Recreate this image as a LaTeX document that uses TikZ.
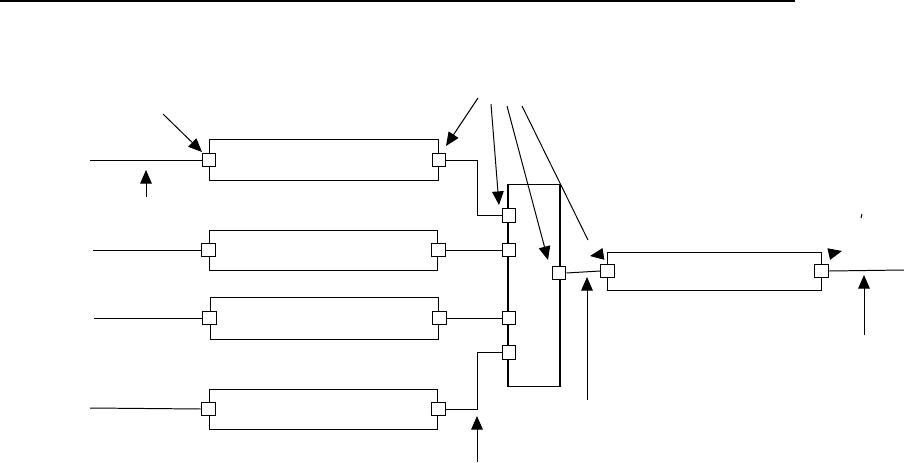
\documentclass[tikz,border=0pt]{standalone}
\usetikzlibrary{arrows.meta}
\begin{document}
\begin{tikzpicture}[x=0.025cm,y=-0.025cm]
		\tikzset{
			block/.style={draw, line width=0.7pt, inner sep=0pt, minimum width=5.72cm, minimum height=1.02cm},
			port/.style={draw, line width=0.7pt, fill=white, inner sep=0pt, minimum size=0.34cm},
			wire/.style={line width=0.7pt},
			pointer/.style={line width=0.7pt, -{Triangle[length=0.34cm, width=0.29cm]}}
		}
		\useasboundingbox (0,0) rectangle (904,462);
		
		\draw[line width=1.4pt] (0,1) -- (795,1);
		
		% units
		\node[block] (b1) at (324,160) {};
		\node[block, minimum height=1cm] (b2) at (323.5,250) {};
		\node[block, minimum height=1.05cm] (b3) at (324.5,318) {};
		\node[block, minimum height=1cm] (b4) at (323.5,409) {};
		\node[block, minimum width=5.33cm, minimum height=0.95cm] (main) at (714.5,271) {};
		\node[draw, line width=0.85pt, inner sep=0pt, minimum width=1.3cm, minimum height=5.03cm] (bus) at (534,285.5) {};
		
		% ports
		\node[port] (b1i) at (b1.west) {};
		\node[port] (b1o) at (b1.east) {};
		\node[port] (b2i) at (b2.west) {};
		\node[port] (b2o) at (b2.east) {};
		\node[port] (b3i) at (b3.west) {};
		\node[port] (b3o) at (b3.east) {};
		\node[port] (b4i) at (b4.west) {};
		\node[port] (b4o) at (b4.east) {};
		\node[port] (mi) at (main.west) {};
		\node[port] (mo) at (main.east) {};
		\node[port] (bus1) at (509,215.5) {};
		\node[port] (bus2) at (509,250) {};
		\node[port] (bus3) at (509,318) {};
		\node[port] (bus4) at (509,352.5) {};
		\node[port] (busr) at (559,273) {};
		
		% free ends
		\coordinate (in1) at (90,160);
		\coordinate (in2) at (93,250);
		\coordinate (in3) at (94,318);
		\coordinate (in4) at (90,408);
		\coordinate (out) at (904,270);
		
		\draw[wire] (in1) -- (b1i.west);
		\draw[wire] (in2) -- (b2i.west);
		\draw[wire] (in3) -- (b3i.west);
		\draw[wire] (in4) -- (b4i.west);
		\draw[wire] (b1o.east) -- ++(31,0) |- (bus1.west);
		\draw[wire] (b2o.east) -- (bus2.west);
		\draw[wire] (b3o.east) -- (bus3.west);
		\draw[wire] (b4o.east) -- ++(32,0) |- (bus4.west);
		\draw[wire] (busr.east) -- (mi.west);
		\draw[wire] (mo.east) -- (out);
		
		% pointers
		\draw[pointer] (163,114) -- (202,152);
		\draw[pointer] (478,98) -- (446,146);
		\draw[pointer] (491,104) -- (499,205);
		\draw[pointer] (507,106) -- (548,260);
		\draw[wire] (522,106) -- (588,240);
		\draw[pointer] (603,254) -- (590,256);
		\draw[pointer] (146,197) -- (146,170);
		\draw[pointer] (477,462) -- (477,416);
		\draw[pointer] (587,400) -- (587,277);
		\draw[pointer] (864,335) -- (864,275);
		\draw[wire] (862,214) -- (861,218);
		\draw[pointer] (829,254) -- (842,251);
		
	\end{tikzpicture}
\end{document}
